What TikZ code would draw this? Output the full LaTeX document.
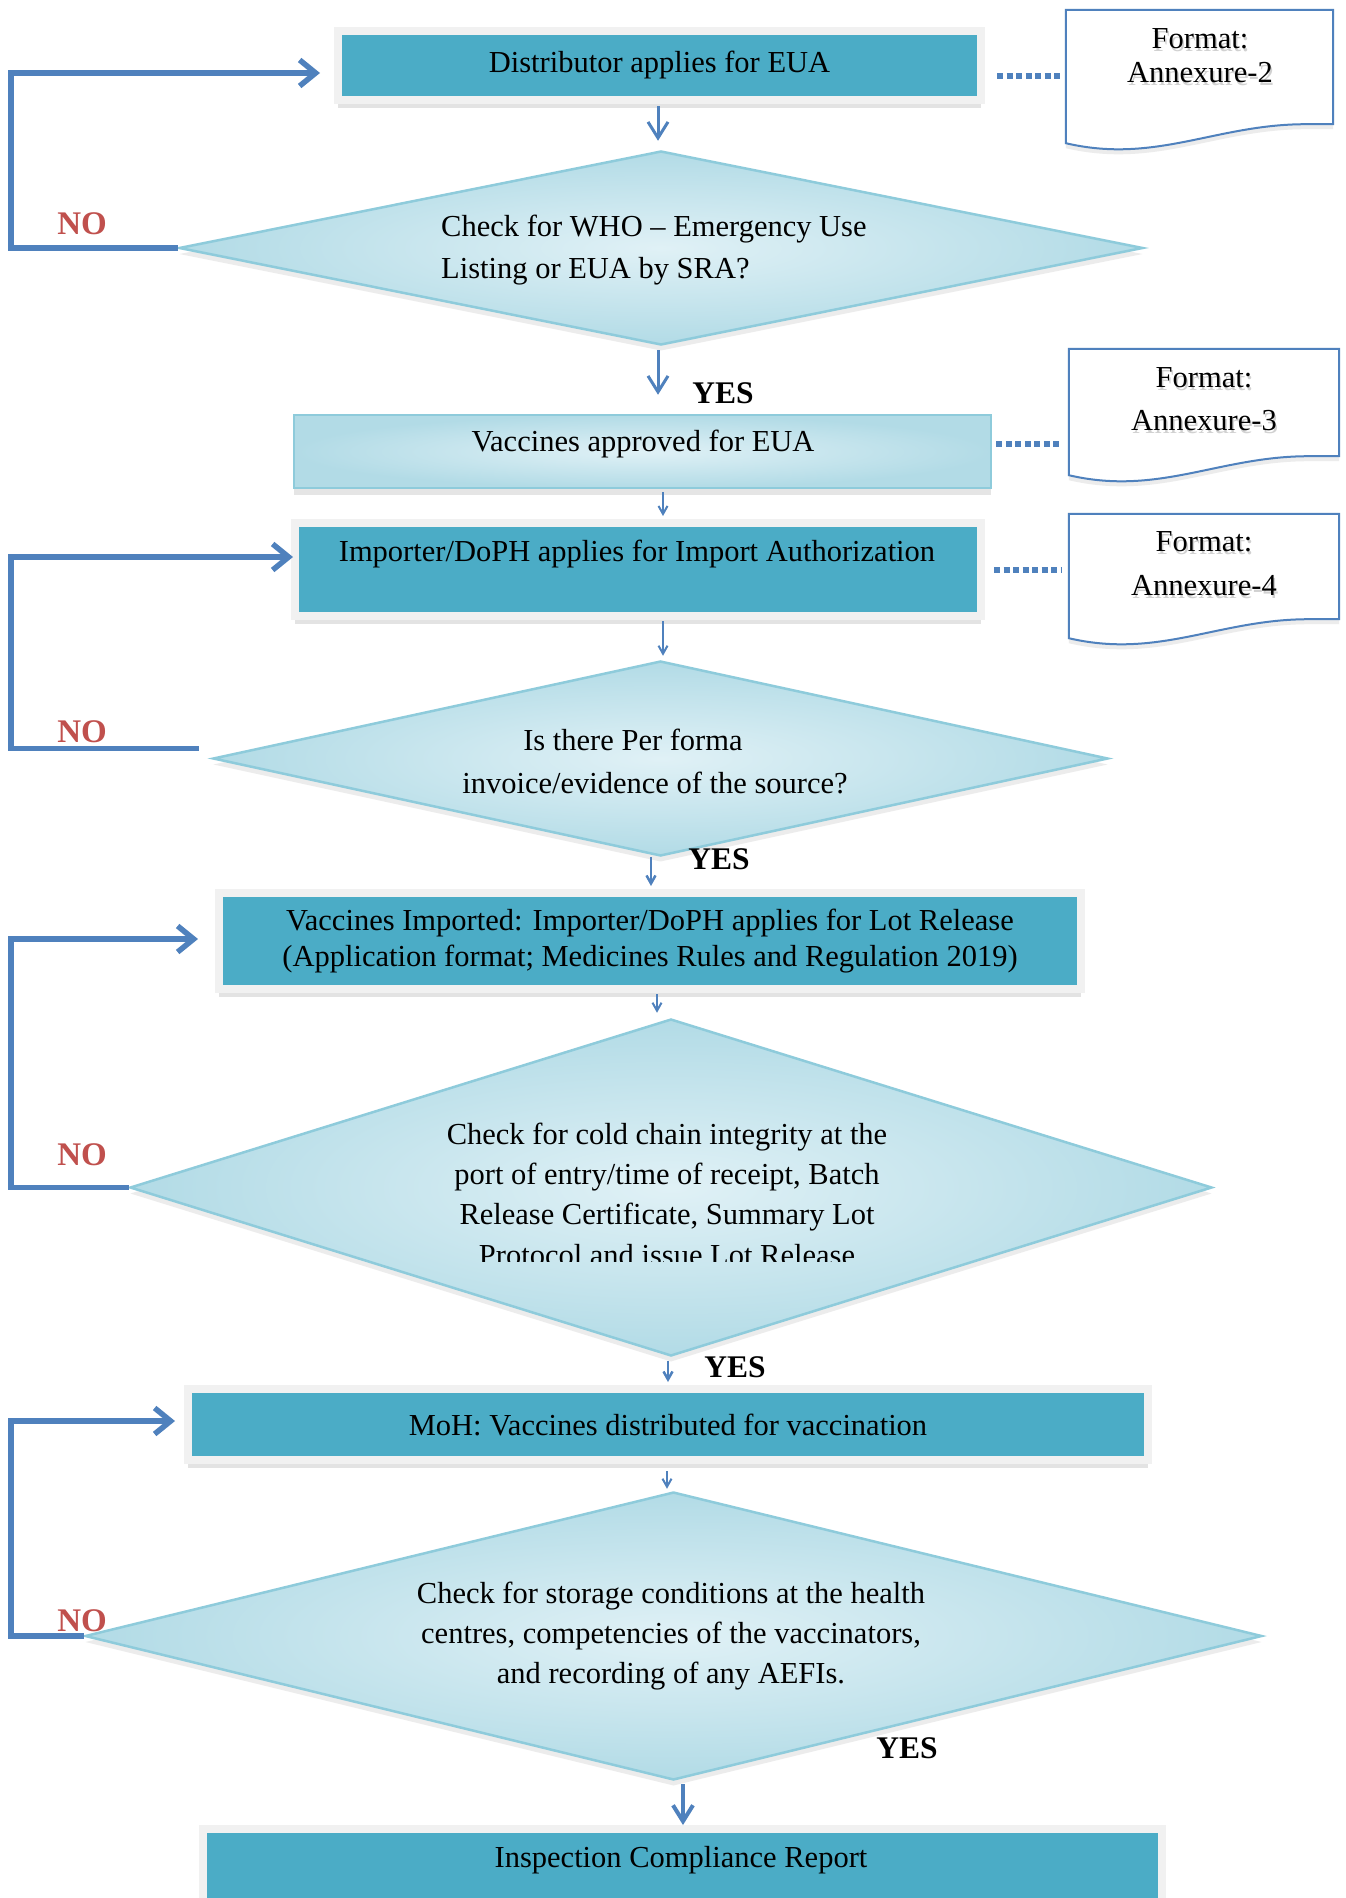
\documentclass[tikz,border=0pt]{standalone}
\usepackage{fontspec}
\setmainfont{Liberation Serif}
\usetikzlibrary{shapes.geometric,arrows.meta,shadows,calc}
\definecolor{boxc}{HTML}{4BACC6}
\definecolor{framec}{HTML}{F1F1F1}
\definecolor{lineb}{HTML}{4F81BD}
\definecolor{nored}{HTML}{C0504D}
\definecolor{dbord}{HTML}{8ECBDB}
\definecolor{dlight}{HTML}{E0F1F6}
\definecolor{ddark}{HTML}{B2DBE6}
\newcommand\fsz{\fontsize{30.5}{36}\selectfont}
\newcommand\docpath[1]{%
  \draw[docline] (#1.south east) -- (#1.north east) -- (#1.north west) --
    ($(#1.south west)+(0,19)$) .. controls ($(#1.south west)+(90,40)$) and ($(#1.south west)+(150,0)$) ..
    ($(#1.south west)+(240,0)$) -- cycle;}
\tikzset{
  procbox/.style={rectangle, fill=boxc, draw=framec, line width=8pt, inner sep=0pt,
    font=\fsz, align=center, drop shadow={shadow xshift=0pt, shadow yshift=-8pt, opacity=0.22}},
  gradbox/.style={rectangle, draw=dbord, line width=2.5pt, inner color=dlight, outer color=ddark,
    inner sep=0pt, drop shadow={shadow xshift=0pt, shadow yshift=-7pt, opacity=0.2}},
  decision/.style={diamond, draw=dbord, line width=2.5pt, inner color=dlight, outer color=ddark,
    inner sep=0pt, drop shadow={shadow xshift=0pt, shadow yshift=-6pt, opacity=0.15}},
  docnode/.style={rectangle, inner sep=0pt},
  docline/.style={draw=lineb, line width=2pt, fill=white,
    drop shadow={shadow xshift=0pt, shadow yshift=-5pt, opacity=0.15}},
  txt/.style={font=\fsz, align=center, inner sep=0pt},
  shtxt/.style={font=\fsz, inner sep=0pt, text=black, opacity=0.18},
  nolab/.style={font=\fontsize{33}{36}\selectfont\bfseries, text=nored, inner sep=0pt},
  yeslab/.style={font=\fontsize{31.5}{36}\selectfont\bfseries, inner sep=0pt},
  loopline/.style={draw=lineb, line width=5.5pt, -{Straight Barb[length=16pt,width=26pt]}},
  flowthick/.style={draw=lineb, line width=3pt, -{Straight Barb[length=16pt,width=20pt]}},
  flowthin/.style={draw=lineb, line width=2pt, -{Straight Barb[length=8pt,width=9pt]}},
  dotline/.style={draw=lineb, line width=6pt, dash pattern=on 6pt off 3.5pt},
}
\begin{document}
\begin{tikzpicture}[x=1pt,y=-1pt]
\fill[white] (0,0) rectangle (1346,1898);
\useasboundingbox (0,0) rectangle (1346,1898);

% ---------- documents ----------
\node[docnode, minimum width=267, minimum height=114] (a2) at (1199.5,67) {};
\node[docnode, minimum width=270, minimum height=107] (a3) at (1204,402.5) {};
\node[docnode, minimum width=270, minimum height=105] (a4) at (1204,566.5) {};
\docpath{a2}
\docpath{a3}
\docpath{a4}
\node[shtxt] at (1201.5,42) {Format:};
\node[shtxt] at (1201.5,76) {Annexure-2};
\node[txt] (f2) at (1200,39) {Format:};
\node[txt] (x2) at (1200,73) {Annexure-2};
\node[shtxt] at (1205.5,381) {Format:};
\node[shtxt] at (1205.5,424) {Annexure-3};
\node[txt] (f3) at (1204,378) {Format:};
\node[txt] (x3) at (1204,421) {Annexure-3};
\node[shtxt] at (1205.5,545) {Format:};
\node[shtxt] at (1205.5,589) {Annexure-4};
\node[txt] (f4) at (1204,542) {Format:};
\node[txt] (x4) at (1204,586) {Annexure-4};

% ---------- process boxes ----------
\node[procbox, minimum width=643, minimum height=69] (b1) at (659.5,65.5) {Distributor applies for EUA};
\node[gradbox, minimum width=697, minimum height=73] (b2) at (642.5,451.5) {};
\node[txt] (t2) at (643,444) {Vaccines approved for EUA};
\node[procbox, minimum width=686, minimum height=93] (b3) at (638,569.5) {};
\node[txt] (t3) at (637,554) {Importer/DoPH applies for Import Authorization};
\node[procbox, minimum width=862, minimum height=96] (b4) at (650,941)
  {Vaccines Imported: Importer/DoPH applies for Lot Release\\(Application format; Medicines Rules and Regulation 2019)};
\node[procbox, minimum width=960, minimum height=71] (b5) at (668,1424.5) {MoH: Vaccines distributed for vaccination};
\node[procbox, minimum width=959, minimum height=85] (b6) at (682.5,1871.5) {};
\node[txt] (t6) at (681,1860) {Inspection Compliance Report};

% ---------- decisions ----------
\node[decision, minimum width=964, minimum height=194] (d1) at (661,248) {};
\node[font=\fontsize{30.5}{42}\selectfont, align=left, inner sep=0pt, anchor=west] (q1) at (441,250)
  {Check for WHO -- Emergency Use\\Listing or EUA by SRA?};
\node[decision, minimum width=895, minimum height=195] (d2) at (660.5,758.5) {};
\node[font=\fontsize{30.5}{43}\selectfont, align=center, inner sep=0pt] (q2) at (655,761)
  {Is there Per forma\rule{44pt}{0pt}\\invoice/evidence of the source?};
\node[decision, minimum width=1082, minimum height=337] (d3) at (671,1187.5) {};
\begin{scope}
  \clip (0,0) rectangle (1346,1261);
  \node[font=\fontsize{30.5}{40.3}\selectfont, align=center, inner sep=0pt] (q3) at (667,1194)
    {Check for cold chain integrity at the\\port of entry/time of receipt, Batch\\Release Certificate, Summary Lot\\Protocol and issue Lot Release};
\end{scope}
\node[decision, minimum width=1177, minimum height=288] (d4) at (673.5,1636) {};
\node[font=\fontsize{30.5}{40}\selectfont, align=center, inner sep=0pt] (q4) at (671,1636)
  {Check for storage conditions at the health\\centres, competencies of the vaccinators,\\and recording of any AEFIs.};

% ---------- dotted links to documents ----------
\coordinate (e1) at ($(b1.east)+(0,10.5)$);
\coordinate (e2) at ($(b2.east)+(0,-7.5)$);
\draw[dotline, shorten <=12pt, shorten >=4pt] (e1) -- (e1 -| a2.west);
\draw[dotline, shorten <=4pt, shorten >=10pt] (e2) -- (e2 -| a3.west);
\draw[dotline, shorten <=9pt, shorten >=7pt] (b3.east) -- (b3.east -| a4.west);

% ---------- main flow ----------
\coordinate (s1) at ($(b1.south)+(-1.5,0)$);
\coordinate (s2) at ($(d1.south)+(-3,0)$);
\coordinate (s3) at ($(b2.south)+(20.5,0)$);
\coordinate (s4) at ($(b3.south)+(25,0)$);
\coordinate (s5) at ($(d2.south)+(-9.5,0)$);
\coordinate (s6) at ($(b4.south)+(7,0)$);
\coordinate (s7) at ($(d3.south)+(-3,0)$);
\coordinate (s8) at ($(b5.south)+(-1,0)$);
\coordinate (s9) at ($(d4.south)+(9.5,0)$);
\draw[flowthick, shorten <=2pt, shorten >=9pt] (s1) -- (s1 |- d1.north);
\draw[flowthick, shorten <=4pt, shorten >=19pt] (s2) -- (s2 |- b2.north);
\draw[flowthin, shorten <=3pt, shorten >=3pt] (s3) -- (s3 |- b3.north);
\draw[flowthin, shorten <=1pt, shorten >=4pt] (s4) -- (s4 |- d2.north);
\draw[flowthin, line width=2.5pt, shorten <=0pt, shorten >=3pt] (s5) -- (s5 |- b4.north);
\draw[flowthin, shorten <=1pt, shorten >=5pt] (s6) -- (s6 |- d3.north);
\draw[flowthin, line width=2.5pt, shorten <=4pt, shorten >=3pt] (s7) -- (s7 |- b5.north);
\draw[flowthin, shorten <=7pt, shorten >=2pt] (s8) -- (s8 |- d4.north);
\draw[flowthick, line width=4pt, shorten <=3pt, shorten >=0pt] (s9) -- (s9 |- b6.north);

% ---------- NO loops ----------
\coordinate (k1) at (11,73);
\coordinate (k2) at (11,557);
\coordinate (k3) at (11,939);
\coordinate (k4) at (11,1421);
\coordinate (m2) at ($(d2.west)+(-13,-10)$);
\draw[loopline, shorten >=14pt] (d1.west) -| (k1) -- (k1 -| b1.west);
\draw[loopline, shorten >=-2pt] (m2) -| (k2) -- (k2 -| b3.west);
\draw[loopline, shorten >=17pt] (d3.west) -| (k3) -- (k3 -| b4.west);
\draw[loopline, shorten >=9pt] (d4.west) -| (k4) -- (k4 -| b5.west);

% ---------- labels ----------
\node[nolab] (n1) at (82,224) {NO};
\node[nolab] (n2) at (82,732) {NO};
\node[nolab] (n3) at (82,1155) {NO};
\node[nolab] (n4) at (82,1621) {NO};
\node[yeslab] (y1) at (723,393) {YES};
\node[yeslab] (y2) at (719,859) {YES};
\node[yeslab] (y3) at (735,1367) {YES};
\node[yeslab] (y4) at (907,1748) {YES};
\end{tikzpicture}
\end{document}
